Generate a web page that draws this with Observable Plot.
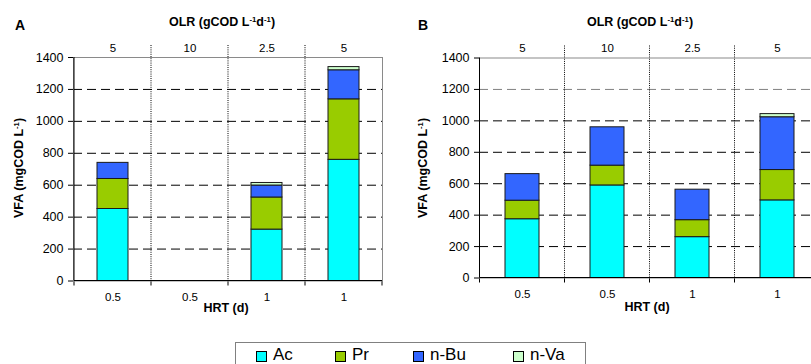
<!DOCTYPE html>
<html><head><meta charset="utf-8">
<script src="https://cdn.jsdelivr.net/npm/d3@7"></script>
<script src="https://cdn.jsdelivr.net/npm/@observablehq/plot@0.6"></script>
<style>
body{margin:0;background:#fff;font-family:"Liberation Sans",Arial,sans-serif;color:#000;}
#root{position:relative;width:811px;height:364px;overflow:hidden;background:#fff;}
.abs{position:absolute;white-space:nowrap;line-height:1;}
.c{transform:translate(-50%,-50%);}
.rot{transform:translate(-50%,-50%) rotate(-90deg);}
.b{font-weight:bold;}
sup{font-size:0.62em;vertical-align:0.55em;line-height:0;}
.pw{position:absolute;top:0;}
.pw svg{max-width:none;overflow:visible;}
</style></head><body><div id="root"></div>
<script>
// ---- data ----
const series = ["Ac", "Pr", "n-Bu", "n-Va"];
const colors = ["#00FFFF", "#99CC00", "#3366FF", "#CCFFCC"];
const olrLabels = ["5", "10", "2.5", "5"];
const hrtLabels = ["0.5", "0.5", "1", "1"];
const yTicks = [0, 200, 400, 600, 800, 1000, 1200, 1400];

const acA = [451, 0, 322, 759];
const prA = [188, 0, 201, 379];
const buA = [101, 0, 75, 182];
const vaA = [0, 0, 16, 20];

const acB = [374, 589, 260, 494];
const prB = [118, 126, 108, 193];
const buB = [169, 244, 194, 336];
const vaB = [0, 0, 0, 20];

const gridDarkA = [200, 400, 600, 800, 1000, 1200];
const gridLightA = [];
const gridDarkB = [200, 400, 600, 800, 1000];
const gridLightB = [1200];

// ---- layout ----
const root = document.getElementById("root");
const FONT = '"Liberation Sans", Arial, sans-serif';

function addText(html, x, y, cls, size) {
  const d = document.createElement("div");
  d.className = "abs " + cls;
  d.style.left = x + "px";
  d.style.top = y + "px";
  d.style.fontSize = size + "px";
  d.innerHTML = html;
  root.appendChild(d);
  return d;
}

function guides(index, scales, values, dims) {
  const x = scales.x, y = scales.y;
  const dom = x.domain();
  const bw = x.bandwidth();
  const step = dom.length > 1 ? Math.abs(x(dom[1]) - x(dom[0])) : bw;
  const bounds = dom.map(d => x(d) - (step - bw) / 2);
  bounds.push(x(dom[dom.length - 1]) + bw + (step - bw) / 2);
  const g = d3.create("svg:g");
  const y0 = y(0), yTop = y(1400);
  bounds.slice(1, -1).forEach(b => {
    g.append("line").attr("x1", b).attr("x2", b).attr("y1", yTop - 12).attr("y2", y0)
      .attr("stroke", "#000").attr("stroke-dasharray", "1,1.2").attr("stroke-width", 1);
  });
  bounds.forEach(b => {
    g.append("line").attr("x1", b).attr("x2", b).attr("y1", y0).attr("y2", y0 + 5)
      .attr("stroke", "#000");
  });
  return g.node();
}

function axisLines(index, scales, values, dims) {
  const x = scales.x, y = scales.y;
  const dom = x.domain();
  const bw = x.bandwidth();
  const step = dom.length > 1 ? Math.abs(x(dom[1]) - x(dom[0])) : bw;
  const left = x(dom[0]) - (step - bw) / 2;
  const right = x(dom[dom.length - 1]) + bw + (step - bw) / 2;
  const g = d3.create("svg:g");
  g.append("line").attr("x1", left).attr("x2", left).attr("y1", y(1400)).attr("y2", y(0)).attr("stroke", "#000");
  g.append("line").attr("x1", left).attr("x2", right).attr("y1", y(0)).attr("y2", y(0)).attr("stroke", "#000");
  return g.node();
}

function panel(cfg) {
  const data = [];
  cfg.values.forEach((vals, s) => vals.forEach((v, i) => data.push({cat: i, series: series[s], value: v})));
  const chart = Plot.plot({
    width: cfg.width, height: 320,
    marginLeft: cfg.ml, marginRight: cfg.mr, marginTop: cfg.mt, marginBottom: cfg.mb,
    style: {fontFamily: FONT, fontSize: "12px", color: "#000", background: "transparent", overflow: "visible"},
    x: {domain: [0, 1, 2, 3], paddingInner: 0.6, paddingOuter: 0.3},
    y: {domain: [0, 1400]},
    color: {domain: series, range: colors},
    marks: [
      Plot.ruleY(cfg.gridDark, {stroke: "#000", strokeDasharray: "9,5"}),
      Plot.ruleY(cfg.gridLight, {stroke: "#808080", strokeDasharray: "9,5"}),
      guides,
      Plot.barY(data.filter(d => d.value > 0), {x: "cat", y: "value", fill: "series", stroke: "#1a1a1a", strokeWidth: 1}),
      Plot.frame({stroke: "#8a8a8a"}),
      axisLines,
      Plot.axisY({ticks: yTicks, tickSize: 5, tickPadding: 5, fontSize: 12.5, label: null, tickFormat: d => String(d)}),
      Plot.axisX({anchor: "bottom", tickSize: 0, tickPadding: 12, fontSize: 11.5, label: null, tickFormat: i => hrtLabels[i]}),
      Plot.axisX({anchor: "top", tickSize: 0, tickPadding: 6, fontSize: 11.5, label: null, tickFormat: i => olrLabels[i]})
    ]
  });
  const w = document.createElement("div");
  w.className = "pw";
  w.style.left = cfg.left + "px";
  w.style.width = cfg.width + "px";
  w.appendChild(chart);
  root.appendChild(w);
}

panel({left: 0, width: 400, ml: 73, mr: 18, mt: 57, mb: 39.5,
  values: [acA, prA, buA, vaA], gridDark: gridDarkA, gridLight: gridLightA});
panel({left: 400, width: 420, ml: 79, mr: 1, mt: 57.5, mb: 42.5,
  values: [acB, prB, buB, vaB], gridDark: gridDarkB, gridLight: gridLightB});

// titles
addText("A", 20, 25, "c b", 14);
addText("B", 423, 25, "c b", 14);
const olrTitle = "OLR (gCOD L<sup>-1</sup>d<sup>-1</sup>)";
addText(olrTitle, 222, 22, "c b", 12.5);
addText(olrTitle, 640, 22, "c b", 12.5);
addText("HRT (d)", 226, 308, "c b", 12.5);
addText("HRT (d)", 647, 307, "c b", 12.5);
const vfaTitle = "VFA (mgCOD L<sup>-1</sup>)";
addText(vfaTitle, 19, 168, "rot b", 12.5);
addText(vfaTitle, 423, 168, "rot b", 12.5);

// legend
const legendBox = document.createElement("div");
legendBox.className = "abs";
Object.assign(legendBox.style, {left: "235px", top: "342px", width: "349px", height: "30px", border: "1px solid #808080", background: "#fff"});
root.appendChild(legendBox);
const swatchLeft = [256, 335, 413, 513];
series.forEach((s, i) => {
  const sw = document.createElement("div");
  sw.className = "abs";
  Object.assign(sw.style, {left: swatchLeft[i] + "px", top: "351px", width: "11px", height: "11px",
    background: colors[i], border: "1px solid #000", boxSizing: "border-box"});
  root.appendChild(sw);
  addText(s, swatchLeft[i] + 17, 346, "", 17);
});
</script>
</body></html>
